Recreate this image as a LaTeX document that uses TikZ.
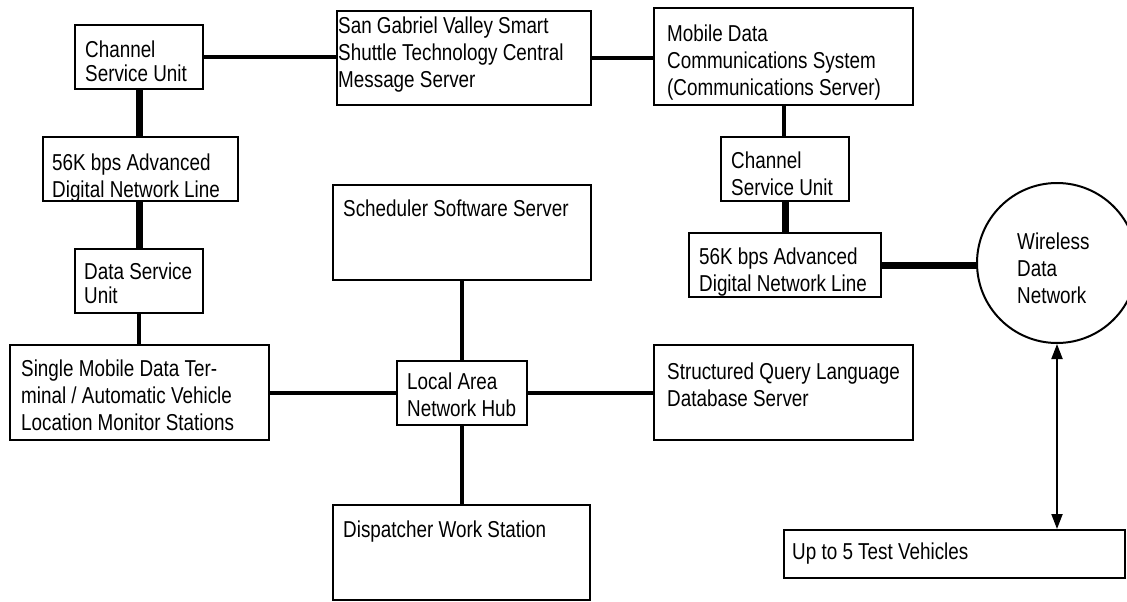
\documentclass[tikz,border=0pt]{standalone}
\usepackage{fontspec}
\setmainfont{Liberation Sans}[FakeStretch=0.82]
\usepackage{tikz}
\usetikzlibrary{arrows.meta}

\begin{document}
\begin{tikzpicture}[x=1pt,y=-1pt,
      box/.style={draw,line width=2pt,anchor=north west,inner sep=0pt},
      txt/.style={anchor=north west,inner sep=0pt,align=left,font=\fontsize{23}{27}\selectfont},
      tight/.style={font=\fontsize{23}{24}\selectfont},
      link/.style={line width=4pt},
      trunk/.style={line width=7pt},
      >={Triangle[length=15pt,width=11pt]}]
      \clip (0,0) rectangle (1127,602);
      % boxes
      \node[box,minimum width=128,minimum height=64] (csuL)  at (74,24)   {};
      \node[box,minimum width=195,minimum height=64] (dnlL)  at (42,136)  {};
      \node[box,minimum width=128,minimum height=64] (dsu)   at (74,248)  {};
      \node[box,minimum width=259,minimum height=95] (mdt)   at (9,344)   {};
      \node[box,minimum width=254,minimum height=94] (sgv)   at (336,10)  {};
      \node[box,minimum width=258,minimum height=95] (sched) at (332,184) {};
      \node[box,minimum width=130,minimum height=64] (hub)   at (396,360) {};
      \node[box,minimum width=257,minimum height=95] (disp)  at (332,504) {};
      \node[box,minimum width=259,minimum height=95] (sql)   at (653,344) {};
      \node[box,minimum width=259,minimum height=97] (mdcs)  at (653,7)   {};
      \node[box,minimum width=128,minimum height=64] (csuR)  at (720,136) {};
      \node[box,minimum width=192,minimum height=64] (dnlR)  at (688,232) {};
      \node[box,minimum width=341,minimum height=48] (veh)   at (783,529) {};
      \node[draw,circle,line width=2pt,minimum size=160,inner sep=0pt] (wdn) at (1057,263) {};
      % labels
      \node[txt,tight] (csuLt) at ([shift={(11,17)}]csuL.north west) {Channel\\Service Unit};
      \node[txt] (dnlLt)  at ([shift={(10,18)}]dnlL.north west)  {56K bps Advanced\\Digital Network Line};
      \node[txt,tight] (dsut) at ([shift={(10,15)}]dsu.north west) {Data Service\\Unit};
      \node[txt] (mdtt)   at ([shift={(12,16)}]mdt.north west)   {Single Mobile Data Ter-\\minal / Automatic Vehicle\\Location Monitor Stations};
      \node[txt] (sgvt)   at ([shift={(2,7)}]sgv.north west)     {San Gabriel Valley Smart\\Shuttle Technology Central\\Message Server};
      \node[txt] (schedt) at ([shift={(11,16)}]sched.north west) {Scheduler Software Server};
      \node[txt] (hubt)   at ([shift={(11,13)}]hub.north west)   {Local Area\\Network Hub};
      \node[txt] (dispt)  at ([shift={(11,17)}]disp.north west)  {Dispatcher Work Station};
      \node[txt] (sqlt)   at ([shift={(14,19)}]sql.north west)   {Structured Query Language\\Database Server};
      \node[txt] (mdcst)  at ([shift={(14,18)}]mdcs.north west)  {Mobile Data\\Communications System\\(Communications Server)};
      \node[txt] (csuRt)  at ([shift={(11,16)}]csuR.north west)  {Channel\\Service Unit};
      \node[txt] (dnlRt)  at ([shift={(11,16)}]dnlR.north west)  {56K bps Advanced\\Digital Network Line};
      \node[txt] (veht)   at ([shift={(9,14)}]veh.north west)    {Up to 5 Test Vehicles};
      \node[txt] (wdnt)   at ([shift={(-40,-30)}]wdn.center)     {Wireless\\Data\\Network};
      % connectors
      \draw[link]  (csuL.east)  -- (csuL.east -| sgv.west);
      \draw[link]  (sgv.east)   -- (sgv.east -| mdcs.west);
      \draw[trunk] (csuL.south) -- (csuL.south |- dnlL.north);
      \draw[trunk] (dsu.north)  -- (dsu.north |- dnlL.south);
      \draw[link]  (dsu.south)  -- (dsu.south |- mdt.north);
      \draw[link]  (mdt.east)   -- (mdt.east -| hub.west);
      \draw[link]  (hub.east)   -- (hub.east -| sql.west);
      \draw[link]  (sched.south) -- (sched.south |- hub.north);
      \draw[link]  (hub.south)  -- (hub.south |- disp.north);
      \draw[link]  (mdcs.south) -- (mdcs.south |- csuR.north);
      \draw[trunk] (csuR.south) -- (csuR.south |- dnlR.north);
      \draw[trunk] (dnlR.east)  -- (dnlR.east -| wdn.west);
      \draw[<->,line width=2pt] (wdn.south) -- (wdn.south |- veh.north);
\end{tikzpicture}
\end{document}
